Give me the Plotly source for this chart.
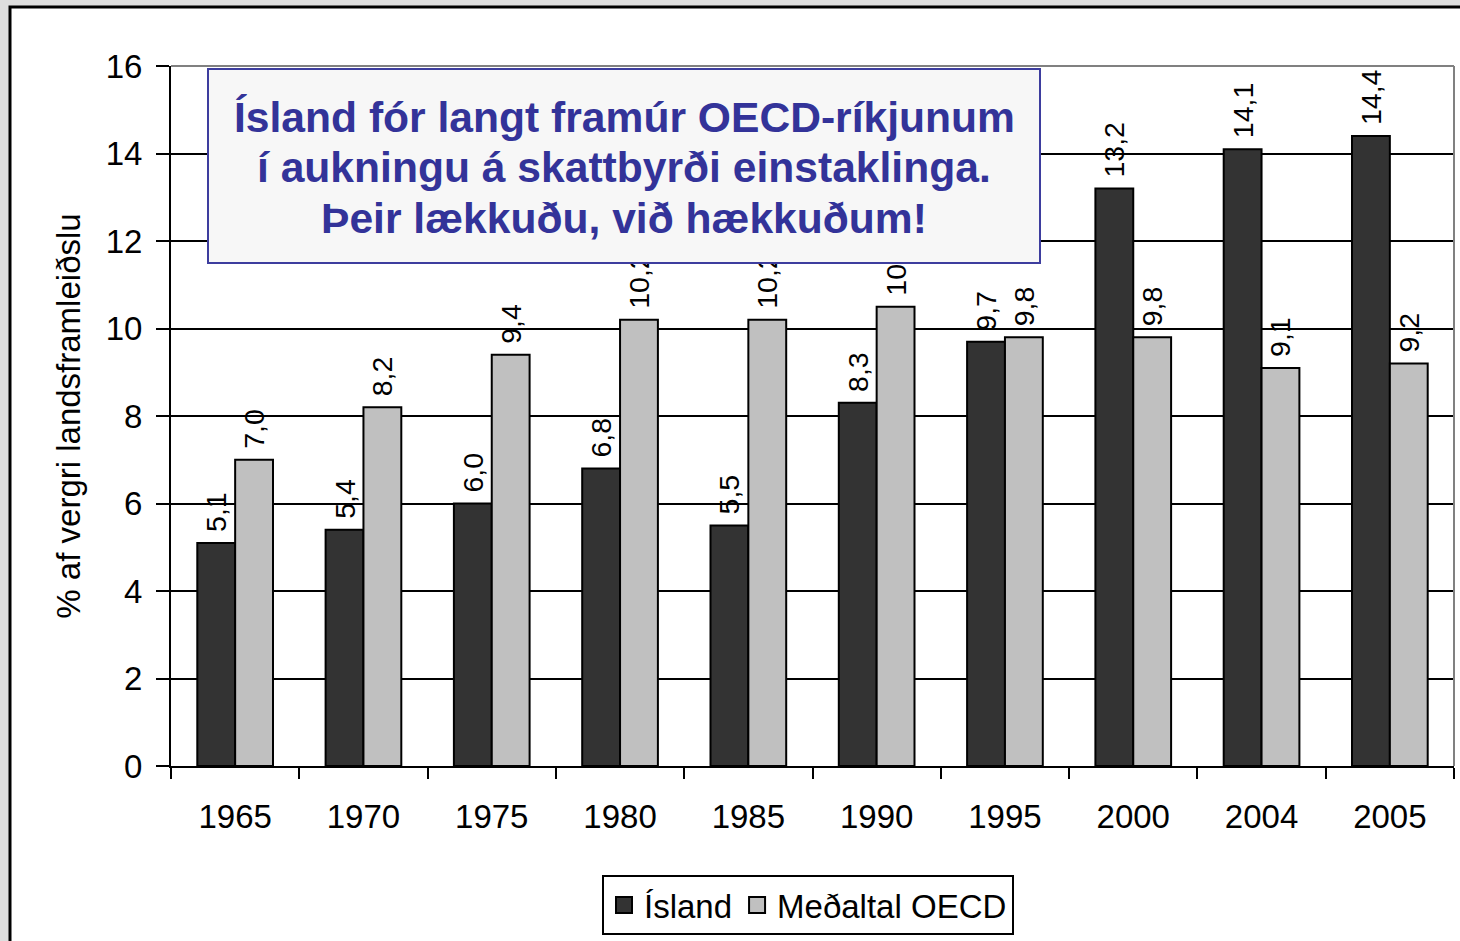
import plotly.graph_objects as go

years = ["1965", "1970", "1975", "1980", "1985", "1990", "1995", "2000", "2004", "2005"]
island = [5.1, 5.4, 6.0, 6.8, 5.5, 8.3, 9.7, 13.2, 14.1, 14.4]
oecd = [7.0, 8.2, 9.4, 10.2, 10.2, 10.5, 9.8, 9.8, 9.1, 9.2]
series_names = ["Ísland", "Meðaltal OECD"]
title_lines = [
    "Ísland fór langt framúr OECD-ríkjunum",
    "í aukningu á skattbyrði einstaklinga.",
    "Þeir lækkuðu, við hækkuðum!",
]
y_title = "% af vergri landsframleiðslu"

FONT = "Liberation Sans, Arial, sans-serif"
COLORS = ["#333333", "#c0c0c0"]

# plot area geometry in pixels
W, H = 1460, 941
L, R, T, B = 171, 6, 66, 175
PW, PH = W - L - R, H - T - B


def px(xp):
    return (xp - L) / PW


def py(yp):
    return (H - B - yp) / PH


fig = go.Figure()
for name, vals, color in zip(series_names, [island, oecd], COLORS):
    fig.add_trace(go.Bar(
        x=years, y=vals, name=name, showlegend=False,
        marker=dict(color=color, line=dict(color="black", width=2)),
        texttemplate="\u00a0%{y:.1f}", textposition="outside", textangle=-90,
        textfont=dict(family=FONT, size=28.5, color="black"),
        constraintext="none", cliponaxis=False,
    ))
# legend entries with larger square swatches
for name, color in zip(series_names, COLORS):
    fig.add_trace(go.Scatter(
        x=[None], y=[None], name=name, mode="markers",
        marker=dict(symbol="square", size=16, color=color, line=dict(color="black", width=2)),
    ))

shapes = [
    # outer frame
    dict(type="rect", xref="paper", yref="paper",
         x0=px(10), x1=px(1475), y0=py(960), y1=py(7),
         fillcolor="white", line=dict(color="black", width=3), layer="below"),
    # gray top / right plot border
    dict(type="line", xref="paper", yref="paper", x0=0, x1=1, y0=1, y1=1,
         line=dict(color="#808080", width=2), layer="above"),
    dict(type="line", xref="paper", yref="paper", x0=1, x1=1, y0=0, y1=1,
         line=dict(color="#808080", width=2), layer="above"),
    # callout box
    dict(type="rect", xref="paper", yref="paper",
         x0=px(208), x1=px(1040), y0=py(263), y1=py(69),
         fillcolor="#f7f7f7", line=dict(color="#3d3d9e", width=2), layer="above"),
]

annotations = []
for line, yc in zip(title_lines, [117, 167, 218]):
    annotations.append(dict(
        text=line, xref="paper", yref="paper", x=px(624), y=py(yc),
        xanchor="center", yanchor="middle", showarrow=False,
        font=dict(family=FONT, size=42.6, color="#333399", weight="bold"),
    ))

fig.update_layout(
    width=W, height=H,
    margin=dict(l=L, r=R, t=T, b=B, pad=0),
    paper_bgcolor="#dedede", plot_bgcolor="white",
    separators=", ",
    barmode="group", bargap=0.41, bargroupgap=0,
    font=dict(family=FONT, size=33, color="black"),
    shapes=shapes, annotations=annotations,
    showlegend=True,
    legend=dict(orientation="h", x=px(808), y=py(905), xanchor="center", yanchor="middle",
                bgcolor="white", bordercolor="black", borderwidth=2,
                font=dict(family=FONT, size=33, color="black"),
                itemsizing="trace", traceorder="normal", itemwidth=30),
)
fig.update_xaxes(
    type="category", showline=True, linecolor="black", linewidth=2,
    ticks="outside", tickson="boundaries", ticklen=11, tickwidth=2, tickcolor="black",
    tickfont=dict(size=33), ticklabelstandoff=20, showgrid=False, fixedrange=True,
)
fig.update_yaxes(
    range=[0, 16], dtick=2, showline=True, linecolor="black", linewidth=2,
    ticks="outside", ticklen=13, tickwidth=2, tickcolor="black",
    tickfont=dict(size=33), ticklabelstandoff=7,
    showgrid=True, gridcolor="black", gridwidth=2, zeroline=False,
    title=dict(text=y_title, font=dict(size=33), standoff=15), fixedrange=True,
)

fig.write_html(
    "out.html",
    config={"displayModeBar": False},
    post_script="document.body.style.margin='0';document.body.style.background='#dedede';"
                "document.body.style.overflow='hidden';",
)
